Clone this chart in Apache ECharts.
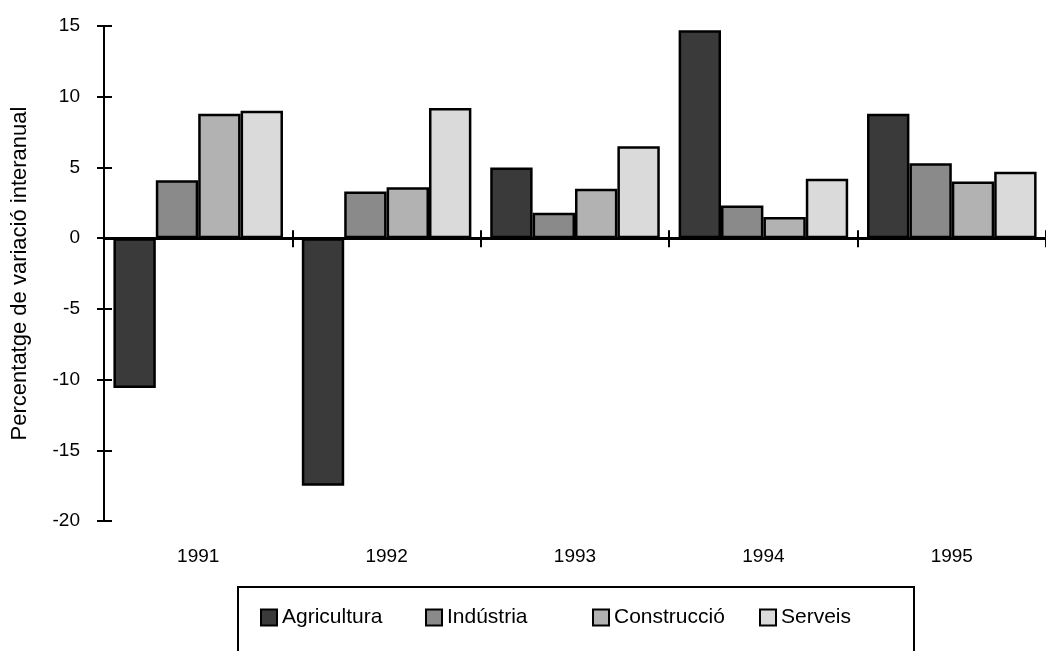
<!DOCTYPE html>
<html><head><meta charset="utf-8">
<script src="https://cdn.jsdelivr.net/npm/echarts@6/dist/echarts.min.js"></script>
<style>html,body{margin:0;padding:0;background:#fff}#c{width:1046px;height:651px}</style>
</head><body><div id="c"></div>
<script>
const years = ['1991','1992','1993','1994','1995'];
const agricultura = [-10.6, -17.5, 5.0, 14.7, 8.8];
const industria = [4.1, 3.3, 1.8, 2.3, 5.3];
const construccio = [8.8, 3.6, 3.5, 1.5, 4.0];
const serveis = [9.0, 9.2, 6.5, 4.2, 4.7];
const seriesNames = ['Agricultura','Indústria','Construcció','Serveis'];
const colors = ['#3a3a3a','#8a8a8a','#b2b2b2','#dadada'];
const yTicks = {min:-20, max:15, interval:5};

const FONT = 'Liberation Sans';
const chart = echarts.init(document.getElementById('c'), null, {renderer:'canvas'});
const dataSets = [agricultura, industria, construccio, serveis];
const legendLeft = [260, 425, 592, 759];

const option = {
  backgroundColor:'#fff',
  animation:false,
  textStyle:{fontFamily:FONT},
  grid:{left:104, top:26, height:495, width:950, containLabel:false},
  legend: seriesNames.map((n,i)=>({
    data:[n], left:legendLeft[i], top:607, padding:0,
    itemWidth:16, itemHeight:16, itemGap:0,
    icon:'rect',
    textStyle:{fontFamily:FONT, fontSize:21, color:'#000'}
  })),
  xAxis:[
    {type:'category', data:years, position:'bottom',
      axisLine:{onZero:true, lineStyle:{color:'#000', width:3}},
      axisTick:{show:true, inside:false, length:9, lineStyle:{color:'#000', width:2}},
      axisLabel:{show:false}, splitLine:{show:false}},
    {type:'category', data:years, position:'bottom',
      axisLine:{show:true, onZero:true, lineStyle:{color:'rgba(0,0,0,0)', width:0}},
      axisTick:{show:true, inside:true, length:8, lineStyle:{color:'#000', width:2}},
      axisLabel:{show:false}, splitLine:{show:false}},
    {type:'category', data:years, position:'bottom',
      axisLine:{show:false, onZero:false}, axisTick:{show:false},
      axisLabel:{show:true, margin:26, fontSize:19, color:'#000', fontFamily:FONT},
      splitLine:{show:false}}
  ],
  yAxis:[
    {type:'value', min:yTicks.min, max:yTicks.max, interval:yTicks.interval,
      name:'Percentatge de variació interanual', nameLocation:'middle', nameGap:73,
      nameTextStyle:{fontSize:22, color:'#000', fontFamily:FONT},
      axisLine:{show:true, lineStyle:{color:'#000', width:2}},
      axisTick:{show:true, inside:false, length:7, lineStyle:{color:'#000', width:2}},
      axisLabel:{margin:24, fontSize:19, color:'#000', fontFamily:FONT},
      splitLine:{show:false}},
    {type:'value', min:yTicks.min, max:yTicks.max, interval:yTicks.interval, position:'left',
      axisLine:{show:false},
      axisTick:{show:true, inside:true, length:8, lineStyle:{color:'#000', width:2}},
      axisLabel:{show:false}, splitLine:{show:false}}
  ],
  graphic:[{type:'rect', shape:{x:238, y:587, width:676, height:80},
    style:{fill:'none', stroke:'#000', lineWidth:2}, silent:true}],
  series: seriesNames.map((n,i)=>({
    name:n, type:'bar', xAxisIndex:0, yAxisIndex:0, data:dataSets[i],
    barGap:'0%', barCategoryGap:'10%',
    itemStyle:{color:colors[i], borderColor:'#000', borderWidth:2.5}
  }))
};
chart.setOption(option);
</script></body></html>
